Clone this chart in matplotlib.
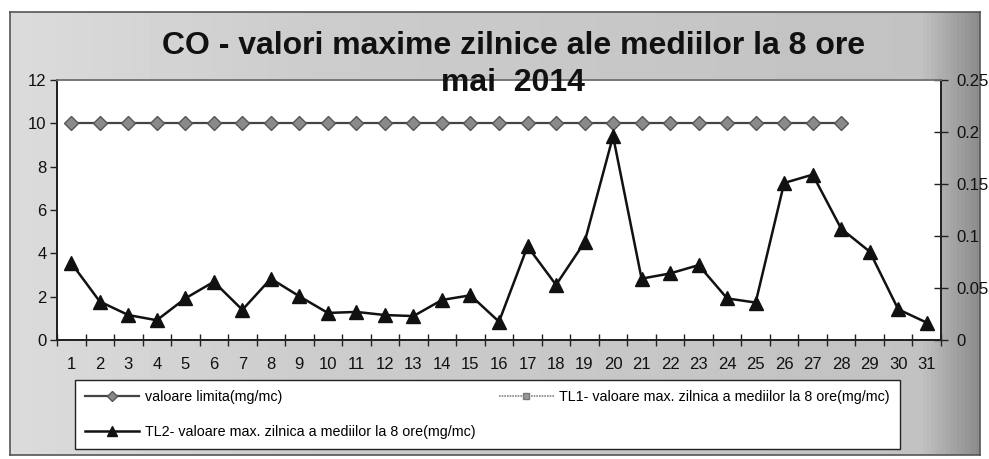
import numpy as np
import matplotlib
matplotlib.use("Agg")
import matplotlib.pyplot as plt

plt.rcParams['font.family'] = ['Liberation Sans', 'DejaVu Sans']

# ---- data ----
days = list(range(1, 32))
limit_days = list(range(1, 29))
limit_values = [10] * 28
tl1_values = []  # no data for TL1
tl2_values = [0.074, 0.037, 0.024, 0.019, 0.040, 0.056, 0.029, 0.059, 0.042, 0.026,
              0.027, 0.024, 0.023, 0.0385, 0.043, 0.0176, 0.090, 0.053, 0.094, 0.196,
              0.059, 0.064, 0.072, 0.040, 0.036, 0.151, 0.159, 0.107, 0.085, 0.0295, 0.0167]
left_ticks = [0, 2, 4, 6, 8, 10, 12]
right_ticks = [0, 0.05, 0.1, 0.15, 0.2, 0.25]
right_labels = ["0", "0.05", "0.1", "0.15", "0.2", "0.25"]
title = "CO - valori maxime zilnice ale mediilor la 8 ore\nmai  2014"
lbl_limit = "valoare limita(mg/mc)"
lbl_tl1 = "TL1- valoare max. zilnica a mediilor la 8 ore(mg/mc)"
lbl_tl2 = "TL2- valoare max. zilnica a mediilor la 8 ore(mg/mc)"

W, H = 989, 459
fig = plt.figure(figsize=(W / 100, H / 100), dpi=100, facecolor='white')

def fx(px):
    return px / W

def fy(py):
    return 1 - py / H

# background gray chart area with gradient
bg = fig.add_axes([fx(10), fy(455), fx(980) - fx(10), fy(12) - fy(455)], zorder=-5)
grad = np.concatenate([np.linspace(0.86, 0.80, 80), np.linspace(0.80, 0.76, 160),
                       np.linspace(0.76, 0.55, 16)])
img = np.tile(grad, (20, 1))
bg.imshow(img, cmap='gray', vmin=0, vmax=1, aspect='auto', extent=[0, 1, 0, 1])
bg.set_xlim(0, 1)
bg.set_ylim(0, 1)
bg.set_xticks([])
bg.set_yticks([])
for s in bg.spines.values():
    s.set_color('#555555')
    s.set_linewidth(1.2)

ax = fig.add_axes([fx(57), fy(340), fx(941) - fx(57), fy(80) - fy(340)])
ax.set_facecolor('white')
ax2 = ax.twinx()

l1, = ax.plot(limit_days, limit_values, color='#444444', lw=1.6, marker='D',
              markersize=7.5, markerfacecolor='#8a8a8a', markeredgecolor='#555555',
              markeredgewidth=1, zorder=3)
l_tl1, = ax2.plot(days[:len(tl1_values)], tl1_values, color='#888888', lw=1.2,
                  ls=(0, (1, 0.6)), marker='s', markersize=6,
                  markerfacecolor='#999999', markeredgecolor='#777777')
l2, = ax2.plot(days, tl2_values, color='#111111', lw=1.8, marker='^',
               markersize=10, markerfacecolor='#111111', markeredgecolor='#111111',
               zorder=4)

ax.set_xlim(0.5, 31.5)
ax.set_ylim(0, 12)
ax2.set_ylim(0, 0.25)
ax.set_yticks(left_ticks)
ax.set_yticklabels([str(t) for t in left_ticks])
ax2.set_yticks(right_ticks)
ax2.set_yticklabels(right_labels)

ax.set_xticks(np.arange(0.5, 32, 1))
ax.set_xticklabels([])
ax.set_xticks(days, minor=True)
ax.set_xticklabels([str(d) for d in days], minor=True)
ax.tick_params(axis='x', which='major', direction='inout', length=8, width=1, color='#222222')
ax.tick_params(axis='x', which='minor', length=0, labelsize=12, pad=12, labelcolor='#111111')
ax.tick_params(axis='y', direction='out', length=5, width=1, labelsize=12, pad=2.5,
               labelcolor='#111111', color='#222222')
ax2.tick_params(axis='y', direction='inout', length=10, width=1, labelsize=12, pad=6,
                labelcolor='#111111', color='#222222')

for a in (ax, ax2):
    a.spines['top'].set_color('#777777')
    a.spines['top'].set_linewidth(1.2)
    a.spines['left'].set_color('#222222')
    a.spines['bottom'].set_color('#222222')
    a.spines['right'].set_color('#222222')
    a.spines['left'].set_linewidth(1.3)
    a.spines['bottom'].set_linewidth(1.3)
    a.spines['right'].set_linewidth(1.3)

fig.text(0.519, fy(64.5), title, ha='center', va='center', fontsize=23,
         fontweight='bold', color='#111111', linespacing=1.3)

leg = fig.legend([l1, l2, l_tl1], [lbl_limit, lbl_tl2, lbl_tl1], ncol=2,
                 loc='upper left',
                 bbox_to_anchor=(fx(75), fy(450), fx(900) - fx(75), fy(380) - fy(450)),
                 bbox_transform=fig.transFigure, mode='expand', fontsize=10.3,
                 frameon=True, fancybox=False, edgecolor='#222222', facecolor='white',
                 framealpha=1, handlelength=3.8, handletextpad=0.4,
                 labelspacing=1.5, borderpad=0.7, borderaxespad=0, markerscale=0.7)
leg.get_frame().set_linewidth(1.0)

fig.savefig('out.png', dpi=100, facecolor='white')
